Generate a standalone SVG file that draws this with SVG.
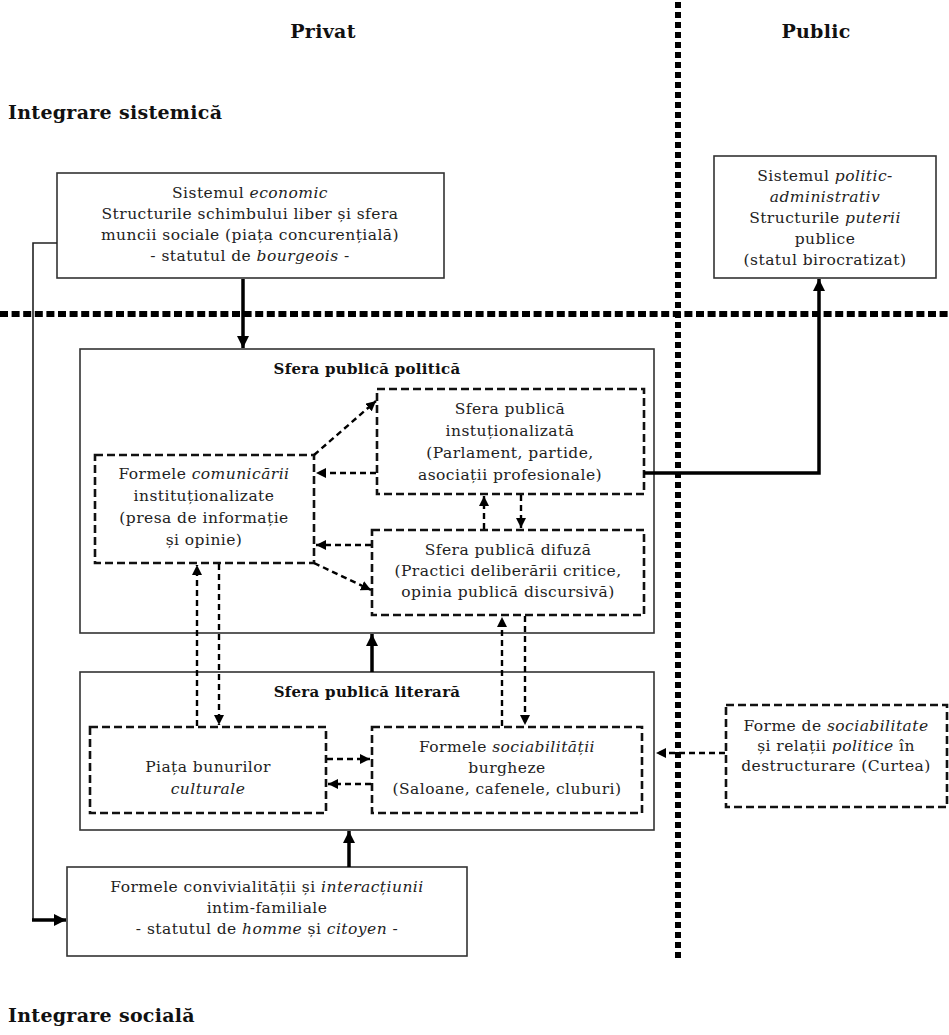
<svg xmlns="http://www.w3.org/2000/svg" width="949" height="1035" viewBox="0 0 949 1035">
<style>
text{font-family:"DejaVu Serif","Liberation Serif",serif;font-size:15.5px;letter-spacing:0.45px;fill:#222;text-anchor:middle}
.h{font-weight:bold;font-size:19px;letter-spacing:0.3px;fill:#111}
.t{font-weight:bold;font-size:15px;letter-spacing:0.3px;fill:#111}
.l{text-anchor:start}
.i{font-style:italic}
.box{fill:#fff;stroke:#333;stroke-width:1.6}
.dbox{fill:#fff;stroke:#111;stroke-width:2.6;stroke-dasharray:8 4}
.sep{stroke:#000;fill:none}
.thick{stroke:#000;stroke-width:3.5;fill:none}
.thin{stroke:#222;stroke-width:1.6;fill:none}
.dash{stroke:#000;stroke-width:2.4;stroke-dasharray:6 4;fill:none}
</style>
<defs>
<marker id="ah" viewBox="0 0 10 10" refX="10" refY="5" markerWidth="10" markerHeight="10" markerUnits="userSpaceOnUse" orient="auto"><path d="M0,0 L10,5 L0,10 z" fill="#000"/></marker>
<marker id="ahb" viewBox="0 0 10 10" refX="10" refY="5" markerWidth="12" markerHeight="12" markerUnits="userSpaceOnUse" orient="auto"><path d="M0,0 L10,5 L0,10 z" fill="#000"/></marker>
</defs>
<rect width="949" height="1035" fill="#fff"/>

<g id="labels">
<text class="h" x="323" y="38">Privat</text>
<text class="h" x="816" y="38">Public</text>
<text class="h l" x="8" y="119">Integrare sistemică</text>
<text class="h l" x="8" y="1022">Integrare socială</text>
</g>

<g id="separators">
<line class="sep" x1="0" y1="314" x2="949" y2="314" stroke-width="6" stroke-dasharray="8 3.6"/>
<line class="sep" x1="678" y1="2" x2="678" y2="960" stroke-width="6" stroke-dasharray="6 4"/>
</g>

<g id="n-economic">
<rect class="box" x="57" y="173" width="387" height="105"/>
<text x="250" y="198">Sistemul <tspan class="i">economic</tspan></text>
<text x="250" y="219">Structurile schimbului liber și sfera</text>
<text x="250" y="240">muncii sociale (piața concurențială)</text>
<text x="250" y="261">- statutul de <tspan class="i">bourgeois</tspan> -</text>
</g>

<g id="n-politic">
<rect class="box" x="714" y="156" width="222" height="122"/>
<text x="825" y="181">Sistemul <tspan class="i">politic-</tspan></text>
<text x="825" y="202" class="i">administrativ</text>
<text x="825" y="223">Structurile <tspan class="i">puterii</tspan></text>
<text x="825" y="244">publice</text>
<text x="825" y="265">(statul birocratizat)</text>
</g>

<g id="n-sfera-politica">
<rect class="box" x="80" y="349" width="574" height="284"/>
<text class="t" x="367" y="374">Sfera publică politică</text>
</g>

<g id="n-sfera-literara">
<rect class="box" x="80" y="672" width="574" height="158"/>
<text class="t" x="367" y="697">Sfera publică literară</text>
</g>

<g id="n-institutionalizata">
<rect class="dbox" x="377" y="389" width="267" height="105"/>
<text x="510" y="414">Sfera publică</text>
<text x="510" y="436">instuționalizată</text>
<text x="510" y="458">(Parlament, partide,</text>
<text x="510" y="480">asociații profesionale)</text>
</g>

<g id="n-comunicarii">
<rect class="dbox" x="95" y="455" width="219" height="108"/>
<text x="204" y="479">Formele <tspan class="i">comunicării</tspan></text>
<text x="204" y="501">instituționalizate</text>
<text x="204" y="523">(presa de informație</text>
<text x="204" y="545">și opinie)</text>
</g>

<g id="n-difuza">
<rect class="dbox" x="372" y="530" width="272" height="85"/>
<text x="508" y="555">Sfera publică difuză</text>
<text x="508" y="576">(Practici deliberării critice,</text>
<text x="508" y="597">opinia publică discursivă)</text>
</g>

<g id="n-piata">
<rect class="dbox" x="90" y="727" width="236" height="86"/>
<text x="208" y="772">Piața bunurilor</text>
<text x="208" y="794" class="i">culturale</text>
</g>

<g id="n-sociabilitatii">
<rect class="dbox" x="372" y="727" width="270" height="86"/>
<text x="507" y="752">Formele <tspan class="i">sociabilității</tspan></text>
<text x="507" y="773">burgheze</text>
<text x="507" y="794">(Saloane, cafenele, cluburi)</text>
</g>

<g id="n-curtea">
<rect class="dbox" x="726" y="705" width="221" height="102"/>
<text x="836" y="731">Forme de <tspan class="i">sociabilitate</tspan></text>
<text x="836" y="751">și relații <tspan class="i">politice</tspan> în</text>
<text x="836" y="771">destructurare (Curtea)</text>
</g>

<g id="n-familiale">
<rect class="box" x="67" y="867" width="400" height="89"/>
<text x="267" y="892">Formele convivialității și <tspan class="i">interacțiunii</tspan></text>
<text x="267" y="913">intim-familiale</text>
<text x="267" y="934">- statutul de <tspan class="i">homme</tspan> și <tspan class="i">citoyen</tspan> -</text>
</g>

<g id="connectors">
<line class="thick" x1="243" y1="279" x2="243" y2="348" marker-end="url(#ahb)"/>
<path class="thin" d="M57,243 H33 V920"/>
<line class="thick" x1="32" y1="920" x2="66" y2="920" stroke-width="3" marker-end="url(#ahb)"/>
<path class="thick" d="M644,473 H819 V279" stroke-width="2.6" marker-end="url(#ahb)"/>
<line class="thick" x1="372" y1="672" x2="372" y2="634" marker-end="url(#ahb)"/>
<line class="thick" x1="349" y1="867" x2="349" y2="831" marker-end="url(#ahb)"/>
<line class="dash" x1="314" y1="455" x2="376" y2="401" marker-end="url(#ah)"/>
<line class="dash" x1="376" y1="473" x2="316" y2="473" marker-end="url(#ah)"/>
<line class="dash" x1="371" y1="545" x2="316" y2="545" marker-end="url(#ah)"/>
<line class="dash" x1="314" y1="563" x2="371" y2="590" marker-end="url(#ah)"/>
<line class="dash" x1="484" y1="529" x2="484" y2="496" marker-end="url(#ah)"/>
<line class="dash" x1="521" y1="495" x2="521" y2="528" marker-end="url(#ah)"/>
<line class="dash" x1="197" y1="726" x2="197" y2="565" marker-end="url(#ah)"/>
<line class="dash" x1="219" y1="564" x2="219" y2="725" marker-end="url(#ah)"/>
<line class="dash" x1="502" y1="726" x2="502" y2="617" marker-end="url(#ah)"/>
<line class="dash" x1="525" y1="616" x2="525" y2="725" marker-end="url(#ah)"/>
<line class="dash" x1="327" y1="759" x2="370" y2="759" marker-end="url(#ah)"/>
<line class="dash" x1="371" y1="784" x2="328" y2="784" marker-end="url(#ah)"/>
<line class="dash" x1="725" y1="753" x2="656" y2="753" marker-end="url(#ah)"/>
</g>
</svg>
